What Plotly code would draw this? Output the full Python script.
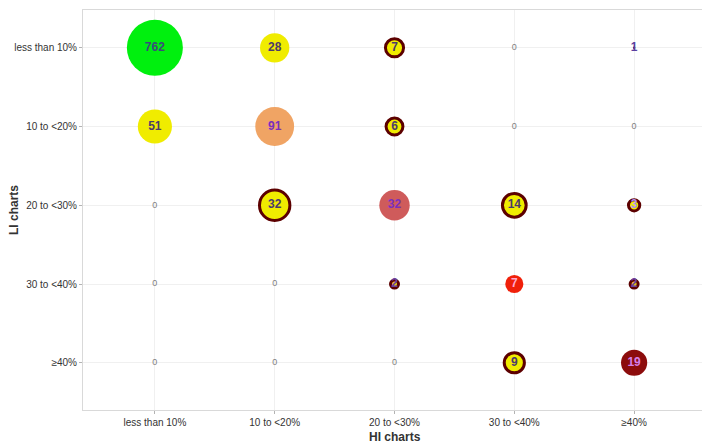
import numpy as np
import plotly.graph_objects as go

# ---- data ----
hi_categories = ["less than 10%", "10 to <20%", "20 to <30%", "30 to <40%", "≥40%"]
li_categories = ["less than 10%", "10 to <20%", "20 to <30%", "30 to <40%", "≥40%"]

# counts[row = LI category][col = HI category]
counts_li_lt10 = [762, 28, 7, 0, 1]
counts_li_10_20 = [51, 91, 6, 0, 0]
counts_li_20_30 = [0, 32, 32, 14, 3]
counts_li_30_40 = [0, 0, 2, 7, 2]
counts_li_ge40 = [0, 0, 0, 9, 19]
counts = [counts_li_lt10, counts_li_10_20, counts_li_20_30, counts_li_30_40, counts_li_ge40]

x_title = "HI charts"
y_title = "LI charts"

# ---- styles (per cell) ----
fill_colors = [
    ["#00F00E", "#F0EC00", "#F0EC00", None, "#5C1010"],
    ["#F0EC00", "#F0A464", "#F0EC00", None, None],
    [None, "#F0EC00", "#CF5B5B", "#F0EC00", "#F0EC00"],
    [None, None, "#E8C020", "#F0200A", "#E8C020"],
    [None, None, None, "#F0EC00", "#8C0C0C"],
]
ringed = [
    [False, False, True, False, False],
    [False, False, True, False, False],
    [False, True, False, True, True],
    [False, False, True, False, True],
    [False, False, False, True, False],
]
text_colors = [
    ["#3B4B7B", "#4B3B6B", "#4B3B6B", None, "#5B3FA0"],
    ["#4B3B6B", "#7B2FBE", "#4B3B6B", None, None],
    [None, "#4B3B6B", "#7B2FBE", "#4B3B6B", "#B090F0"],
    [None, None, "#6B3FA0", "#FFA8CC", "#6B3FA0"],
    [None, None, None, "#4B3B6B", "#D77FE8"],
]
RING = "#5C0000"
FONT = "Liberation Sans, Arial, sans-serif"

mx, my, msize, mcol, mlcol, mlw = [], [], [], [], [], []
tx, ty, tt, tcol = [], [], [], []
zx, zy = [], []
for i, li in enumerate(li_categories):
    for j, hi in enumerate(hi_categories):
        v = counts[i][j]
        if v == 0:
            zx.append(hi); zy.append(li)
            continue
        d = 8.08 * np.log(v) + 2.4
        mx.append(hi); my.append(li)
        msize.append(d)
        mcol.append(fill_colors[i][j])
        if ringed[i][j]:
            mlcol.append(RING); mlw.append(3)
        else:
            mlcol.append("rgba(0,0,0,0)"); mlw.append(0)
        tx.append(hi); ty.append(li); tt.append(str(v)); tcol.append(text_colors[i][j])

fig = go.Figure()
fig.add_trace(go.Scatter(
    x=mx, y=my, mode="markers",
    marker=dict(size=msize, color=mcol, line=dict(color=mlcol, width=mlw), opacity=1),
    hoverinfo="skip", showlegend=False, cliponaxis=False,
))
fig.add_trace(go.Scatter(
    x=tx, y=ty, mode="text", text=tt,
    textfont=dict(size=12, color=tcol, family=FONT, weight="bold"),
    textposition="middle center", showlegend=False, cliponaxis=False,
))
fig.add_trace(go.Scatter(
    x=zx, y=zy, mode="text", text=["0"] * len(zx),
    textfont=dict(size=9, color="#7F7F7F", family=FONT),
    textposition="middle center", showlegend=False,
))

axis_common = dict(
    type="category",
    automargin=False,
    showgrid=True, gridcolor="#F0F0F0", gridwidth=1,
    zeroline=False,
    showline=True, linecolor="#D9D9D9", linewidth=1, mirror=True,
    ticks="outside", ticklen=3, tickcolor="#B3B3B3",
    tickfont=dict(size=10, color="#333333", family=FONT),
)
fig.update_layout(
    width=702, height=435,
    margin=dict(l=75, r=4, t=2, b=33),
    paper_bgcolor="white", plot_bgcolor="white",
    xaxis=dict(**axis_common, range=[-0.6, 4.6],
               categoryorder="array", categoryarray=hi_categories),
    yaxis=dict(**axis_common, range=[-0.6, 4.48],
               categoryorder="array", categoryarray=list(reversed(li_categories))),
    annotations=[
        dict(text="<b>%s</b>" % x_title, x=0.5, y=0, xref="paper", yref="paper",
             yshift=-27, xanchor="center", yanchor="middle", showarrow=False,
             font=dict(size=12, color="#333333", family=FONT)),
        dict(text="<b>%s</b>" % y_title, x=0, y=0.5, xref="paper", yref="paper",
             xshift=-69, xanchor="center", yanchor="middle", textangle=-90, showarrow=False,
             font=dict(size=12, color="#333333", family=FONT)),
    ],
)
fig.write_html("out.html")
